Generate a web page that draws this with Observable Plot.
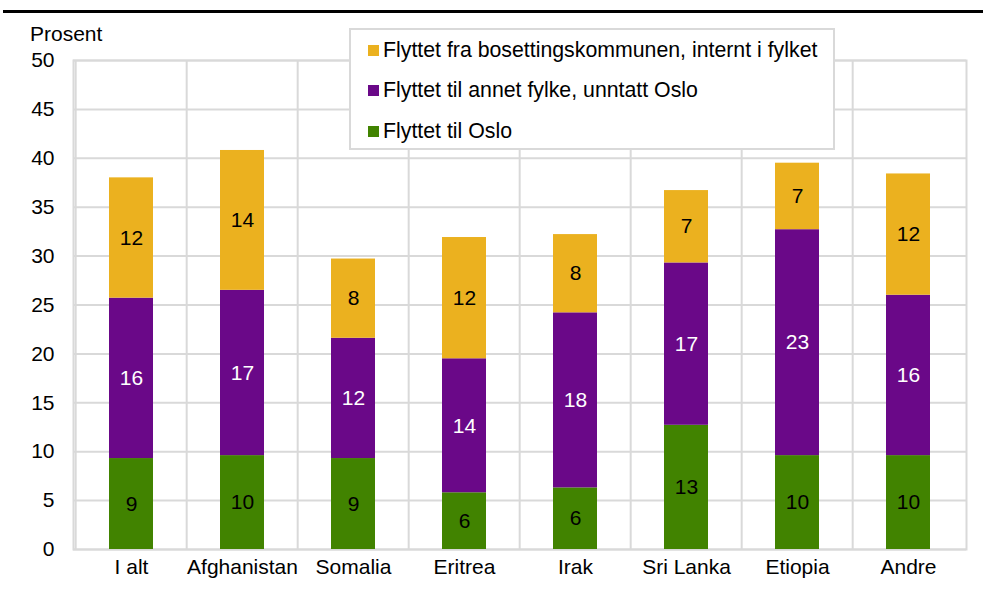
<!DOCTYPE html>
<html><head><meta charset="utf-8">
<script src="https://cdn.jsdelivr.net/npm/d3@7"></script>
<script src="https://cdn.jsdelivr.net/npm/@observablehq/plot@0.6"></script>
<style>
body{margin:0;background:#fff;font-family:"Liberation Sans",Arial,sans-serif;}
#wrap{position:relative;width:983px;height:590px;overflow:hidden;}
#topline{position:absolute;left:3px;right:0;top:10px;height:3px;background:#000;}
#unit{position:absolute;left:30px;top:23px;font-size:21px;line-height:21px;color:#000;}
#legend{position:absolute;left:349px;top:28px;width:482px;height:118px;background:#fff;border:2px solid #d9d9d9;}
.item{display:flex;align-items:center;height:40.5px;padding-left:17px;font-size:21.3px;color:#000;white-space:nowrap;}
.sw{width:11px;height:11px;margin-right:4px;flex:none;}
</style></head><body>
<div id="wrap"><div id="chart"></div><div id="topline"></div><div id="unit">Prosent</div><div id="legend"></div></div>
<script>
const categories = ["I alt","Afghanistan","Somalia","Eritrea","Irak","Sri Lanka","Etiopia","Andre"];
const series = ["Flyttet til Oslo","Flyttet til annet fylke, unntatt Oslo","Flyttet fra bosettingskommunen, internt i fylket"];
const oslo = [9.3,9.6,9.3,5.8,6.3,12.7,9.6,9.6];
const annetFylke = [16.4,16.9,12.3,13.7,17.9,16.6,23.1,16.4];
const interntFylke = [12.3,14.3,8.1,12.4,8.0,7.4,6.8,12.4];
const colors = ["#418300","#6a0888","#ebb11f"];
const textColors = ["#000000","#ffffff","#000000"];
const yTicks = d3.range(0, 51, 5);

const values = [oslo, annetFylke, interntFylke];
const rows = [];
categories.forEach((c, i) => {
  let base = 0;
  values.forEach((arr, s) => {
    const v = arr[i];
    rows.push({cat: c, series: series[s], y1: base, y2: base + v, mid: base + v / 2,
               label: String(Math.round(v)), color: colors[s], tc: textColors[s]});
    base += v;
  });
});

const W = 983, H = 590, mL = 73, mR = 17, mT = 60, mB = 41;
const step = (W - mL - mR) / categories.length;

const chart = Plot.plot({
  width: W, height: H,
  marginLeft: mL, marginRight: mR, marginTop: mT, marginBottom: mB,
  style: {fontFamily: "Liberation Sans, Arial, sans-serif", fontSize: "21px", color: "#000", background: "#fff"},
  x: {domain: categories, paddingInner: 0.6, paddingOuter: 0.3, label: null},
  y: {domain: [0, 50], label: null},
  marks: [
    Plot.ruleY(yTicks, {stroke: "#d9d9d9", strokeWidth: 2}),
    Plot.ruleX(categories, {x: d => d, dx: -step / 2, stroke: "#d9d9d9", strokeWidth: 2}),
    Plot.frame({stroke: "#d9d9d9", strokeWidth: 2}),
    Plot.barY(rows, {x: "cat", y1: "y1", y2: "y2", fill: d => d.color}),
    Plot.text(rows, {x: "cat", y: "mid", text: "label", fill: d => d.tc, fontSize: 21}),
    Plot.axisY({ticks: yTicks, tickSize: 0, tickPadding: 19, fontSize: 21, label: null}),
    Plot.axisX({tickSize: 0, tickPadding: 10, fontSize: 21, label: null})
  ]
});
document.getElementById("chart").appendChild(chart);

const legend = document.getElementById("legend");
[2, 1, 0].forEach(s => {
  const it = document.createElement("div");
  it.className = "item";
  const sw = document.createElement("span");
  sw.className = "sw";
  sw.style.background = colors[s];
  it.appendChild(sw);
  it.appendChild(document.createTextNode(series[s]));
  legend.appendChild(it);
});
</script>
</body></html>
